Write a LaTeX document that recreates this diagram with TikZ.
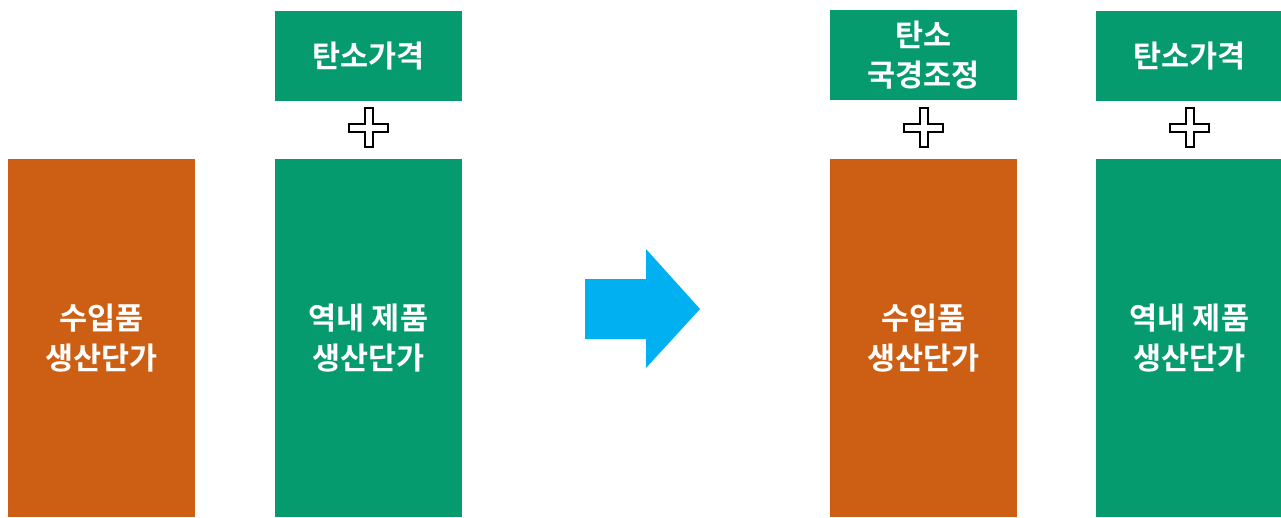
\documentclass[tikz,border=0pt]{standalone}
\usepackage{fontspec}
\newfontfamily\kr{Noto Sans CJK KR}[BoldFont={* Bold}]
\definecolor{gbox}{HTML}{069A6F}
\definecolor{obox}{HTML}{CD5F14}
\definecolor{arr}{HTML}{00B0F0}
\begin{document}
\begin{tikzpicture}[x=1pt,y=-1pt,
  box/.style={inner sep=0pt, outer sep=0pt, anchor=north west, align=center,
    text=white, font=\kr\bfseries\fontsize{30.5}{40}\selectfont},
  gb/.style={box, fill=gbox},
  ob/.style={box, fill=obox},
  plus/.pic={\draw[line width=2pt, fill=white, line join=miter]
     (-4,-19.5) -- (4,-19.5) -- (4,-4) -- (19.5,-4) -- (19.5,4) -- (4,4) -- (4,19.5)
     -- (-4,19.5) -- (-4,4) -- (-19.5,4) -- (-19.5,-4) -- (-4,-4) -- cycle;}]
\useasboundingbox (0,0) rectangle (1281,517);
% left group
\node[ob, minimum width=187pt, minimum height=358pt] (imp) at (8,159) {수입품\\생산단가};
\node[gb, minimum width=187pt, minimum height=90pt] (cp1) at (275,11) {탄소가격};
\node[gb, minimum width=187pt, minimum height=358pt] (dom1) at (275,159) {역내 제품\\생산단가};
\pic at (368.5,127.5) {plus};
% arrow
\fill[arr] (585,279) -- (646,279) -- (646,249) -- (700,309) -- (646,368) -- (646,339) -- (585,339) -- cycle;
% right group
\node[gb, minimum width=187pt, minimum height=90pt] (cbam) at (830,10) {탄소\\국경조정};
\node[ob, minimum width=187pt, minimum height=358pt] (imp2) at (830,159) {수입품\\생산단가};
\pic at (923.5,127.5) {plus};
\node[gb, minimum width=187pt, minimum height=90pt] (cp2) at (1096,11) {탄소가격};
\node[gb, minimum width=187pt, minimum height=358pt] (dom2) at (1096,159) {역내 제품\\생산단가};
\pic at (1189.5,127.5) {plus};
\end{tikzpicture}
\end{document}
